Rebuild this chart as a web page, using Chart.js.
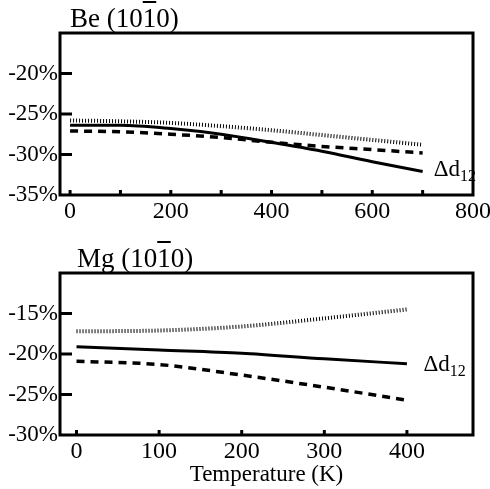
<!DOCTYPE html>
<html>
<head>
<meta charset="utf-8">
<script src="https://cdn.jsdelivr.net/npm/chart.js@4.4.0/dist/chart.umd.min.js"></script>
<style>
    html, body { margin: 0; padding: 0; background: #fff; }
    #page { position: relative; width: 490px; height: 489px; overflow: hidden; }
    canvas { position: absolute; left: 0; }
    #beCanvas { top: 0; }
    #mgCanvas { top: 240px; }
    .panel-title {
        position: absolute;
        font-family: "Liberation Serif", "Times New Roman", serif;
        font-size: 27px;
        color: #000;
        white-space: nowrap;
        line-height: 1;
    }
    .bar { text-decoration: overline; text-decoration-thickness: 2px; }
</style>
</head>
<body>
<div id="page">
    <canvas id="beCanvas" width="490" height="240"></canvas>
    <canvas id="mgCanvas" width="490" height="249"></canvas>
    <div class="panel-title" id="beTitle" style="left:70px; top:5px;">Be (10<span class="bar">1</span>0)</div>
    <div class="panel-title" id="mgTitle" style="left:77px; top:245px;">Mg (10<span class="bar">1</span>0)</div>
</div>
<script>
    // Be (10-10) : temperatura (K) e relaxação (%)
    const beTemps = [0, 100, 200, 300, 400, 500, 600, 700];
    const beSolid = [-26.4, -26.4, -26.8, -27.5, -28.5, -29.6, -30.9, -32.1];
    const beDashed = [-27.1, -27.2, -27.5, -27.9, -28.5, -29.0, -29.4, -29.8];
    const beDotted = [-25.8, -25.9, -26.1, -26.5, -27.0, -27.6, -28.2, -28.8];
    const beXLabels = [0, 200, 400, 600, 800];
    const beXMarks = [0, 100, 200, 300, 400, 500, 600, 700];
    const beYLabels = [-35, -30, -25, -20];
    const beYMarks = [-30, -25, -20];

    // Mg (10-10)
    const mgTemps = [0, 100, 200, 300, 400];
    const mgSolid = [-19.1, -19.5, -19.9, -20.6, -21.2];
    const mgDashed = [-20.9, -21.3, -22.6, -24.1, -25.7];
    const mgDotted = [-17.2, -17.1, -16.6, -15.6, -14.5];
    const mgXLabels = [0, 100, 200, 300, 400];
    const mgXMarks = [0, 100, 200, 300, 400];
    const mgYLabels = [-30, -25, -20, -15];
    const mgYMarks = [-25, -20, -15];

    const serif = '"Liberation Serif", "Times New Roman", serif';

    function toPoints(xs, ys) {
        return xs.map((x, i) => ({ x: x, y: ys[i] }));
    }

    // Moldura, marcas internas e rótulo Δd12
    const framePlugin = {
        id: 'frame',
        afterDraw(chart, args, opts) {
            const { ctx, chartArea: a, scales } = chart;
            ctx.save();
            ctx.strokeStyle = '#000';
            ctx.lineWidth = 3;
            ctx.strokeRect(a.left, a.top, a.right - a.left, a.bottom - a.top);

            // marcas no eixo y (para dentro)
            opts.yMarks.forEach(v => {
                const y = scales.y.getPixelForValue(v);
                ctx.beginPath();
                ctx.moveTo(a.left, y);
                ctx.lineTo(a.left + 12, y);
                ctx.stroke();
            });
            // marcas no eixo x
            opts.xMarks.forEach(v => {
                const x = scales.x.getPixelForValue(v);
                ctx.beginPath();
                ctx.moveTo(x, a.bottom);
                ctx.lineTo(x, a.bottom - 5);
                ctx.stroke();
            });

            // rótulo
            const lx = scales.x.getPixelForValue(opts.labelX);
            const ly = scales.y.getPixelForValue(opts.labelY);
            ctx.fillStyle = '#000';
            ctx.textBaseline = 'alphabetic';
            ctx.textAlign = 'left';
            ctx.font = '23px ' + serif;
            ctx.fillText('Δd', lx, ly);
            const w = ctx.measureText('Δd').width;
            ctx.font = '16px ' + serif;
            ctx.fillText('12', lx + w, ly + 5);
            ctx.restore();
        }
    };

    function makeChart(canvasId, cfg) {
        const ctx = document.getElementById(canvasId).getContext('2d');
        return new Chart(ctx, {
            type: 'line',
            data: {
                datasets: [
                    {
                        label: 'solid',
                        data: toPoints(cfg.temps, cfg.solid),
                        borderColor: '#000',
                        borderWidth: 3,
                        pointRadius: 0,
                        cubicInterpolationMode: 'monotone'
                    },
                    {
                        label: 'dashed',
                        data: toPoints(cfg.temps, cfg.dashed),
                        borderColor: '#000',
                        borderWidth: 3.5,
                        borderDash: [8, 6],
                        pointRadius: 0,
                        cubicInterpolationMode: 'monotone'
                    },
                    {
                        label: 'dotted',
                        data: toPoints(cfg.temps, cfg.dotted),
                        borderColor: '#000',
                        borderWidth: 4,
                        borderDash: [1, 2],
                        pointRadius: 0,
                        cubicInterpolationMode: 'monotone'
                    }
                ]
            },
            options: {
                responsive: false,
                animation: false,
                layout: { padding: { top: 33, left: 0, right: 17, bottom: 0 } },
                plugins: {
                    legend: { display: false },
                    tooltip: { enabled: false },
                    frame: {
                        xMarks: cfg.xMarks,
                        yMarks: cfg.yMarks,
                        labelX: cfg.labelX,
                        labelY: cfg.labelY
                    }
                },
                scales: {
                    x: {
                        type: 'linear',
                        min: cfg.xMin,
                        max: cfg.xMax,
                        afterBuildTicks: s => { s.ticks = cfg.xLabels.map(v => ({ value: v })); },
                        afterFit: s => {
                            s.height = cfg.xHeight;
                            s.paddingLeft = 0;
                            s.paddingRight = 0;
                        },
                        grid: { display: false, drawTicks: false },
                        border: { display: false },
                        ticks: {
                            color: '#000',
                            padding: 2,
                            maxRotation: 0,
                            autoSkip: false,
                            font: { family: serif, size: 24 }
                        },
                        title: {
                            display: !!cfg.xTitle,
                            text: cfg.xTitle || '',
                            color: '#000',
                            padding: { top: 0, bottom: 0 },
                            font: { family: serif, size: 23 }
                        }
                    },
                    y: {
                        min: cfg.yMin,
                        max: cfg.yMax,
                        afterBuildTicks: s => { s.ticks = cfg.yLabels.map(v => ({ value: v })); },
                        afterFit: s => {
                            s.width = 60;
                            s.paddingTop = 0;
                            s.paddingBottom = 0;
                        },
                        grid: { display: false, drawTicks: false },
                        border: { display: false },
                        ticks: {
                            color: '#000',
                            padding: 2,
                            autoSkip: false,
                            font: { family: serif, size: 23 },
                            callback: v => v + '%'
                        }
                    }
                }
            },
            plugins: [framePlugin]
        });
    }

    makeChart('beCanvas', {
        temps: beTemps, solid: beSolid, dashed: beDashed, dotted: beDotted,
        xLabels: beXLabels, xMarks: beXMarks, yLabels: beYLabels, yMarks: beYMarks,
        xMin: -20, xMax: 800, yMin: -35, yMax: -15,
        xHeight: 45, labelX: 722, labelY: -32.6
    });

    makeChart('mgCanvas', {
        temps: mgTemps, solid: mgSolid, dashed: mgDashed, dotted: mgDotted,
        xLabels: mgXLabels, xMarks: mgXMarks, yLabels: mgYLabels, yMarks: mgYMarks,
        xMin: -20, xMax: 480, yMin: -30, yMax: -10,
        xHeight: 54, labelX: 420, labelY: -22.1,
        xTitle: 'Temperature (K)'
    });
</script>
</body>
</html>
